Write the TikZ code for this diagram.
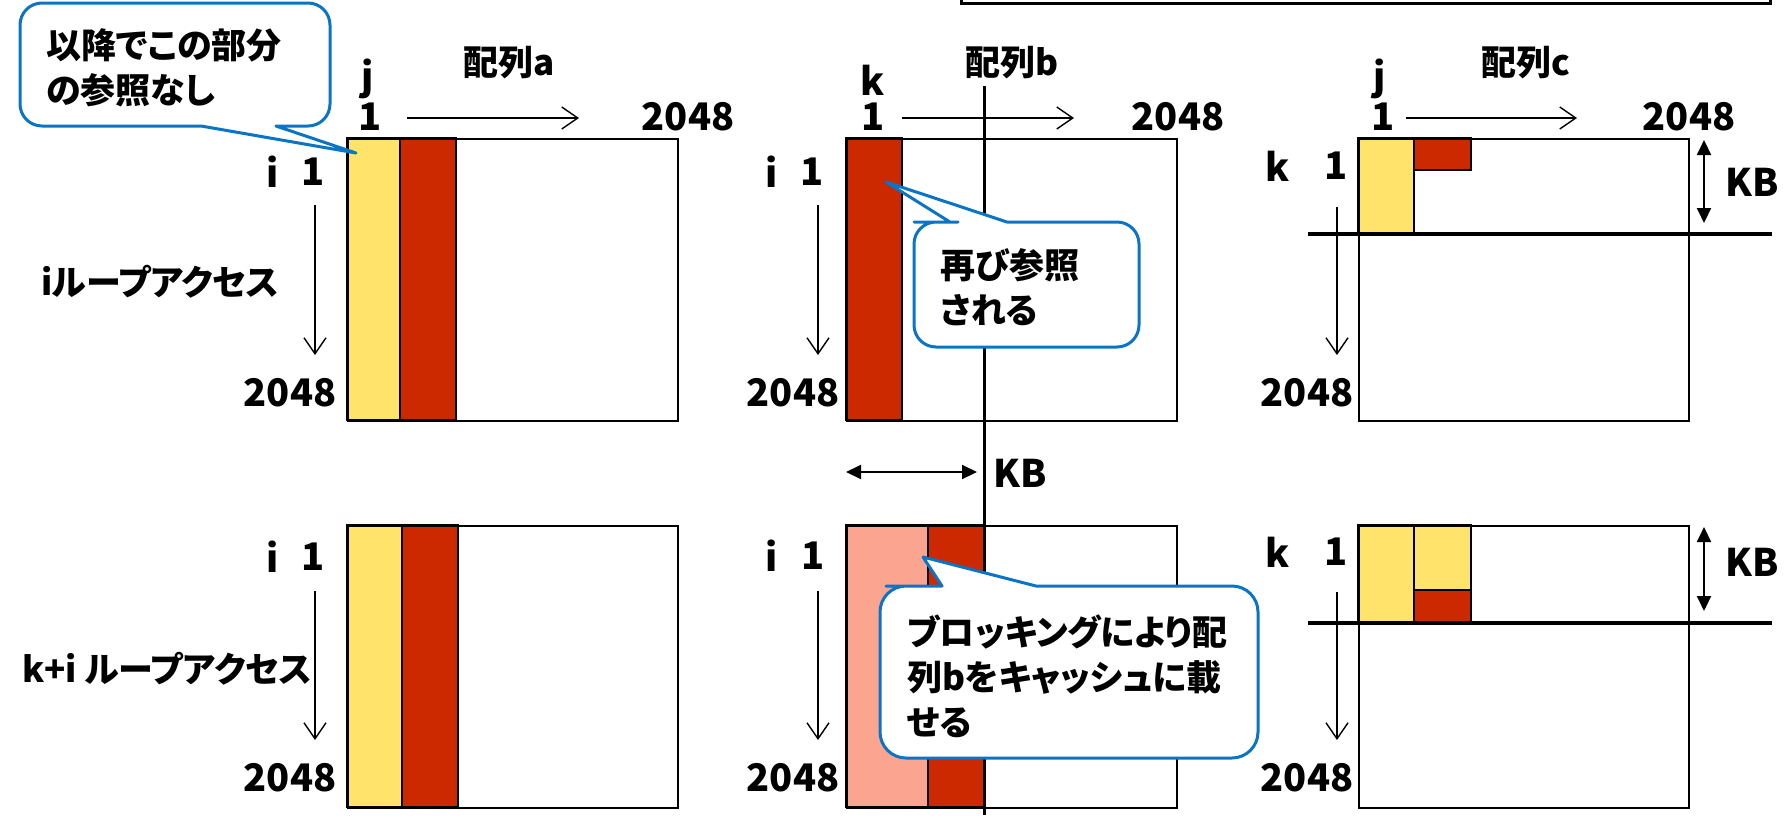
\documentclass[tikz,border=0pt]{standalone}
\usepackage{fontspec}
\setmainfont{Noto Sans CJK JP}
\newfontfamily\jpprop{Noto Sans CJK JP}[RawFeature=+palt]
\usetikzlibrary{arrows.meta}
\definecolor{cyel}{HTML}{FFE36B}
\definecolor{cred}{HTML}{CC2900}
\definecolor{csal}{HTML}{FBA591}
\definecolor{cblue}{HTML}{0B74C4}
\begin{document}
\begin{tikzpicture}[x=1pt,y=-1pt,
  mat/.style={draw=black,line width=2pt,inner sep=0pt,anchor=north west,minimum width=330pt,minimum height=282pt},
  strip/.style={draw=black,line width=1.3pt},
  lbl/.style={font=\fontsize{38}{44}\selectfont\bfseries,inner sep=0pt},
  jtxt/.style={font=\jpprop\fontsize{35}{45}\selectfont\bfseries,inner sep=0pt,align=left,anchor=west},
  axis/.style={line width=1.4pt,-{Straight Barb[length=16pt,width=22pt,line width=1.4pt]}},
  kbarrow/.style={line width=2pt,{Triangle[length=15pt,width=14pt]}-{Triangle[length=15pt,width=14pt]}},
  heavy/.style={line width=4.5pt},
  callout/.style={draw=cblue,line width=3pt,fill=white,line join=round}]
\useasboundingbox (0,0) rectangle (1785,815);

% top box (cut off)
\draw[line width=3pt] (961,0) -- (961,3) -- (1770,3) -- (1770,0);

% ---- colored strips ----
\draw[strip,fill=cyel] (347,138) rectangle (400,420);
\draw[strip,fill=cred] (400,138) rectangle (456,420);
\draw[strip,fill=cred] (846,138) rectangle (902,420);
\draw[strip,fill=cyel] (1358,138) rectangle (1414,233);
\draw[strip,fill=cred] (1414,138) rectangle (1471,170);
\draw[strip,fill=cyel] (347,525) rectangle (402,807);
\draw[strip,fill=cred] (402,525) rectangle (458,807);
\draw[strip,fill=csal] (846,525) rectangle (928,807);
\draw[strip,fill=cred] (928,525) rectangle (984,807);
\draw[strip,fill=cyel] (1358,525) rectangle (1414,622);
\draw[strip,fill=cyel] (1414,525) rectangle (1471,590);
\draw[strip,fill=cred] (1414,590) rectangle (1471,622);

% ---- matrices ----
\node[mat] (ma1) at (347,138) {};
\node[mat] (mb1) at (846,138) {};
\node[mat] (mc1) at (1358,138) {};
\node[mat] (ma2) at (347,525) {};
\node[mat] (mb2) at (846,525) {};
\node[mat] (mc2) at (1358,525) {};

% ---- block lines ----
\coordinate (vb1) at (984,86);
\coordinate (vb2) at (984,815);
\draw[line width=3pt] (vb1) -- (vb2);
\coordinate (hc1a) at (1308,234);
\coordinate (hc1b) at (1772,234);
\coordinate (hc2a) at (1308,623);
\coordinate (hc2b) at (1772,623);
\draw[heavy] (hc1a) -- (hc1b);
\draw[heavy] (hc2a) -- (hc2b);

% ---- labels ----
\node[jtxt,anchor=center] (ta) at (509,63) {配列a};
\node[jtxt,anchor=center] (tb) at (1012,63) {配列b};
\node[jtxt,anchor=center] (tc) at (1526,63) {配列c};
\node[lbl] (ja) at (368,79) {j};
\node[lbl] (kb0) at (873,80) {k};
\node[lbl] (jc) at (1380,79) {j};
\node[lbl] (oa) at (370,117) {1};
\node[lbl] (ob) at (873,117) {1};
\node[lbl] (oc) at (1383,117) {1};
\node[lbl] (ea) at (688,117) {2048};
\node[lbl] (eb) at (1178,117) {2048};
\node[lbl] (ec) at (1689,117) {2048};

\node[lbl] (ia1) at (273,172) {i};
\node[lbl] (na1) at (313,172) {1};
\node[lbl] (ib1) at (772,172) {i};
\node[lbl] (nb1) at (812,172) {1};
\node[lbl] (kc1) at (1278,166) {k};
\node[lbl] (nc1) at (1336,166) {1};
\node[lbl] (za1) at (290,393) {2048};
\node[lbl] (zb1) at (793,393) {2048};
\node[lbl] (zc1) at (1307,393) {2048};
\node[lbl] (kbc1) at (1752,182) {KB};

\node[lbl] (ia2) at (273,557) {i};
\node[lbl] (na2) at (313,557) {1};
\node[lbl] (ib2) at (772,556) {i};
\node[lbl] (nb2) at (813,556) {1};
\node[lbl] (kc2) at (1278,552) {k};
\node[lbl] (nc2) at (1336,552) {1};
\node[lbl] (za2) at (290,778) {2048};
\node[lbl] (zb2) at (793,778) {2048};
\node[lbl] (zc2) at (1307,778) {2048};
\node[lbl] (kbc2) at (1752,562) {KB};
\node[lbl] (kbb2) at (1020,473) {KB};

\node[jtxt] (loop1) at (41,282) {iループアクセス};
\node[jtxt] (loop2) at (22,669) {k+i ループアクセス};

% ---- axis arrows ----
\coordinate (ha1s) at (407,118);  \coordinate (ha1e) at (579,118);
\coordinate (hb1s) at (902,118);  \coordinate (hb1e) at (1074,118);
\coordinate (hc1s) at (1406,118); \coordinate (hc1e) at (1577,118);
\draw[axis] (ha1s) -- (ha1e);
\draw[axis] (hb1s) -- (hb1e);
\draw[axis] (hc1s) -- (hc1e);
\coordinate (da1s) at (315,205); \coordinate (da1e) at (315,355);
\coordinate (db1s) at (818,205); \coordinate (db1e) at (818,355);
\coordinate (dc1s) at (1337,207); \coordinate (dc1e) at (1337,355);
\coordinate (da2s) at (315,591); \coordinate (da2e) at (315,740);
\coordinate (db2s) at (818,591); \coordinate (db2e) at (818,740);
\coordinate (dc2s) at (1337,592); \coordinate (dc2e) at (1337,740);
\draw[axis] (da1s) -- (da1e);
\draw[axis] (db1s) -- (db1e);
\draw[axis] (dc1s) -- (dc1e);
\draw[axis] (da2s) -- (da2e);
\draw[axis] (db2s) -- (db2e);
\draw[axis] (dc2s) -- (dc2e);

% ---- KB arrows ----
\coordinate (k1s) at (1704,140); \coordinate (k1e) at (1704,223);
\coordinate (k2s) at (1704,527); \coordinate (k2e) at (1704,611);
\coordinate (k3s) at (846,472);  \coordinate (k3e) at (977,472);
\draw[kbarrow] (k1s) -- (k1e);
\draw[kbarrow] (k2s) -- (k2e);
\draw[kbarrow] (k3s) -- (k3e);

% ---- callouts ----
\draw[callout] (201,126) -- (356,153) -- (276,126) -- (300,126)
  [rounded corners=22pt] -- (330,126) -- (330,3) -- (20,3) -- (20,126) -- (180,126)
  [sharp corners] -- cycle;
\node[jtxt] (c1) at (46,67.5) {以降でこの部分\\の参照なし};

\draw[callout] (950,222) -- (886,182) -- (1007,222) -- (1030,222)
  [rounded corners=22pt] -- (1139,222) -- (1139,347) -- (914,347) -- (914,222) -- (936,222)
  [sharp corners] -- cycle;
\node[jtxt] (c2) at (940,287.5) {再び参照\\される};

\draw[callout] (942,586) -- (923,557) -- (1036,586) -- (1060,586)
  [rounded corners=26pt] -- (1258,586) -- (1258,758) -- (880,758) -- (880,586) -- (912,586)
  [sharp corners] -- cycle;
\node[jtxt] (c3) at (907,676) {ブロッキングにより配\\列bをキャッシュに載\\せる};

\end{tikzpicture}
\end{document}
